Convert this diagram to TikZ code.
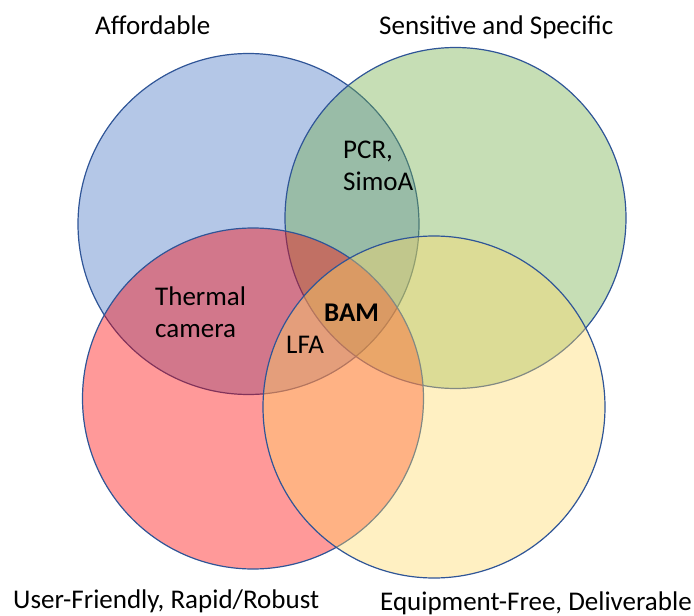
\documentclass[tikz,border=0pt]{standalone}
\usepackage{fontspec}
\setmainfont{Carlito}
\usepackage{tikz}
\usetikzlibrary{positioning}
\definecolor{setline}{HTML}{2F5597}
\definecolor{setblue}{HTML}{4472C4}
\definecolor{setgreen}{HTML}{70AD47}
\definecolor{setred}{HTML}{FF0000}
\definecolor{setyellow}{HTML}{FFD966}
\tikzstyle{vset} = [circle, draw=setline, line width=1.2pt, fill opacity=0.4,
minimum size=341pt, inner sep=0pt]
\tikzstyle{title} = [anchor=base west, inner sep=0pt, font=\fontsize{27}{32}\selectfont]
\tikzstyle{item} = [anchor=base west, inner sep=0pt, align=left, font=\fontsize{27}{32}\selectfont]
\begin{document}
\begin{tikzpicture}[x=1pt, y=-1pt]
      \useasboundingbox (0,0) rectangle (694,616);
      %% Sets
      \node [vset, fill=setblue] (afford) at (248.5,224) {};
      \node [vset, fill=setgreen] (sensit) at (455.5,218) {};
      \node [vset, fill=setred] (userfr) at (253,398.5) {};
      \node [vset, fill=setyellow, minimum size=342pt] (equipf) at (434,407) {};
      %% Set titles
      \node [title] (tafford) at (95,34.5) {Affordable};
      \node [title] (tsensit) at (379,34.5) {Sensitive and Specific};
      \node [title] (tuserfr) at (13,608) {User-Friendly, Rapid/Robust};
      \node [title] (tequipf) at (380,610) {Equipment-Free, Deliverable};
      %% Methods (base = last line)
      \node [item] (pcr) at (343,190) {PCR,\\SimoA};
      \node [item] (thermal) at (155,337) {Thermal\\camera};
      \node [item] (lfa) at (286,353) {LFA};
      \node [item, font=\fontsize{27}{32}\selectfont\bfseries] (bam) at (324,321.5) {BAM};
    \end{tikzpicture}
\end{document}
